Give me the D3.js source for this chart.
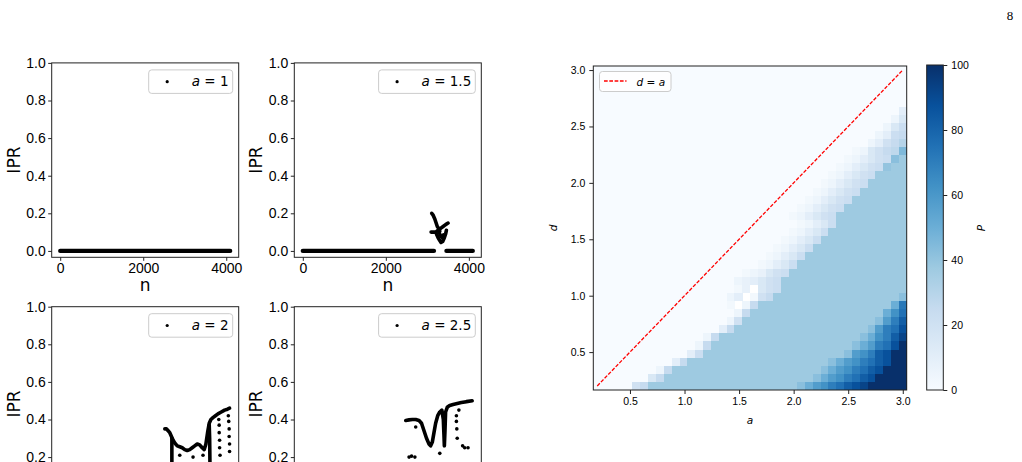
<!DOCTYPE html>
<meta charset="utf-8">
<script src="https://cdn.jsdelivr.net/npm/d3@7"></script>
<style>
body { margin: 0; background: #fff; }
svg { display: block; font-family: "DejaVu Sans", sans-serif; }
.tick line { stroke: #222; }
.frame { fill: none; stroke: #222; stroke-width: 1px; }
</style>
<body>
<script>

// ---- left panels: IPR vs n ----
var nTicks = [0, 2000, 4000];
var iprTicks = [0, 0.2, 0.4, 0.6, 0.8, 1.0];
var aLabels = ["1", "1.5", "2", "2.5"];

// stretches of IPR = 0 (dense dots), [nStart, nEnd]
var flat1 = [[0, 4095]];
var flat2 = [[0, 3160], [3460, 4095]];
var flat3 = [];
var flat4 = [];

// dense runs of dots, [n, IPR]
var curves2 = [
  [[3106,0.20],[3140,0.19],[3180,0.17],[3210,0.15],[3240,0.13],[3270,0.12],[3300,0.105]],
  [[3090,0.10],[3150,0.10],[3200,0.10],[3260,0.11],[3320,0.12],[3380,0.13],[3440,0.14],[3500,0.148]],
  [[3220,0.09],[3260,0.07],[3300,0.055],[3330,0.045],[3370,0.05],[3410,0.07],[3440,0.09],[3460,0.11]],
  [[3280,0.10],[3320,0.08],[3360,0.07],[3390,0.085]]
];
var curves3 = [
  [[2520,0.35],[2560,0.35],[2600,0.34],[2640,0.33],[2680,0.31],[2720,0.29],[2760,0.275],[2820,0.26],[2880,0.255],[2940,0.25],[3000,0.24],[3060,0.235],[3120,0.24],[3180,0.25],[3240,0.26],[3300,0.27],[3360,0.265],[3420,0.25],[3470,0.24],[3510,0.27],[3550,0.33],[3590,0.38],[3630,0.40],[3680,0.41],[3740,0.42],[3800,0.43],[3880,0.44],[3960,0.45],[4030,0.455],[4080,0.46]],
  [[2690,0.30],[2690,0.12]],
  [[3590,0.37],[3600,0.30],[3610,0.12]]
];
var curves4 = [
  [[2480,0.395],[2560,0.398],[2640,0.40],[2720,0.40],[2800,0.395],[2860,0.38],[2920,0.34],[2980,0.30],[3040,0.27],[3080,0.26],[3120,0.28],[3160,0.33],[3200,0.38],[3250,0.42],[3300,0.44],[3350,0.45],[3385,0.40],[3400,0.32],[3410,0.26],[3425,0.34],[3440,0.44],[3480,0.465],[3540,0.475],[3620,0.48],[3720,0.485],[3820,0.49],[3940,0.495],[4080,0.50]]
];
// isolated dots
var strays3 = [[3820,0.40],[3830,0.37],[3830,0.33],[3840,0.29],[3840,0.25],[3850,0.21],[4050,0.42],[4060,0.39],[4070,0.35],[4070,0.31],[4080,0.27],[4080,0.23],[2880,0.21],[3200,0.20],[3440,0.21]];
var strays4 = [[2560,0.20],[2620,0.205],[2700,0.20],[2720,0.36],[3300,0.22],[3700,0.42],[3700,0.39],[3710,0.35],[3720,0.30],[3850,0.26],[3900,0.25],[3980,0.25],[3760,0.45]];

// ---- right panel: P(a, d) heat map ----
var gridVals = [0.2,0.272,0.344,0.415,0.487,0.559,0.631,0.703,0.774,0.846,0.918,0.990,1.062,1.133,1.205,1.277,1.349,1.421,1.492,1.564,
                1.636,1.708,1.779,1.851,1.923,1.995,2.067,2.138,2.210,2.282,2.354,2.426,2.497,2.569,2.641,2.713,2.785,2.856,2.928,3.0];
var abTicks = [0.5, 1.0, 1.5, 2.0, 2.5, 3.0];
var pTicks = [0, 20, 40, 60, 80, 100];
var diagVals = [0.2, 3.0];
// one symbol per cell, P = 2.5 * index in pSymbols, "-" = no value; "c*n" = c repeated n times
var pSymbols = "0123456789abcdefghijklmnopqrstuvwxyzABCDE";
// rows from d = 3.0 (top) down to d = 0.2
var pRows = [
  "0*40",
  "0*40",
  "0*40",
  "0*40",
  "0*40",
  "0*39 4",
  "0*38 26",
  "0*37 269",
  "0*36 249a",
  "0*35 248ac",
  "0*33 1268abi",
  "0*32 124689 hf",
  "0*31 124689 g f*2",
  "0*30 124689 f*4",
  "0*29 124689 f*5",
  "0*28 124689 f*6",
  "0*27 124689 f*7",
  "0*26 124689 f*8",
  "0*25 124689 f*9",
  "0*26 12469 f*9",
  "0*25 12469 f*10",
  "0*24 12469 f*11",
  "0*23 12469 f*12",
  "0*22 12469 f*13",
  "0*21 12469 f*14",
  "0*19 123689 f*15",
  "0*18 234689 f*16",
  "0*18 13-689 f*16",
  "0*17 24-18a f*16 h",
  "0*17 1-2a f*17 kt",
  "0*18 2a f*17 kpu",
  "0*17 28 f*17 hnsx",
  "0*16 4a f*17 hnsuz",
  "0*14 2a f*18 hkpsxB",
  "0*13 2a f*18 hknsuz E",
  "0*12 49 f*18 hnpsxz E*2",
  "0*10 4a f*18 hknpsuxz E*2",
  "0*8 2a f*19 hknpsuxz E*3",
  "0*7 6a f*19 hknpsuxz E*4",
  "0*5 8a f*19 hknpsuxzB E*5"
];

var width = 1022, height = 462;

var svg = d3.select("body").append("svg")
    .attr("width", width)
    .attr("height", height);

// page number
svg.append("text")
    .attr("x", 1010).attr("y", 20)
    .attr("text-anchor", "middle")
    .style("font-family", "'Liberation Serif', serif")
    .style("font-size", "13px")
    .style("fill", "#000")
    .text("8");

// small panels
var panels = [
  {left: 51.7, top: 62.9, a: aLabels[0], flat: flat1, curves: [], strays: []},
  {left: 294.3, top: 62.9, a: aLabels[1], flat: flat2, curves: curves2, strays: []},
  {left: 51.7, top: 306.7, a: aLabels[2], flat: flat3, curves: curves3, strays: strays3},
  {left: 294.3, top: 306.7, a: aLabels[3], flat: flat4, curves: curves4, strays: strays4}
];
var pw = 187, ph = 194.4;

panels.forEach(function(p) {
  var g = svg.append("g").attr("transform", "translate(" + p.left + "," + p.top + ")");

  var x = d3.scaleLinear().domain([-205, 4300]).range([0, pw]);
  var y = d3.scaleLinear().domain([-0.034, 1.0]).range([ph, 0]);

  var line = d3.line()
      .x(function(d) { return x(d[0]); })
      .y(function(d) { return y(d[1]); });

  g.selectAll(".flat")
      .data(p.flat)
      .enter().append("line")
      .attr("x1", function(d) { return x(d[0]); })
      .attr("x2", function(d) { return x(d[1]); })
      .attr("y1", y(0)).attr("y2", y(0))
      .style("stroke", "#000")
      .style("stroke-width", 4.3)
      .style("stroke-linecap", "round");

  g.selectAll(".curve")
      .data(p.curves)
      .enter().append("path")
      .attr("d", line)
      .style("fill", "none")
      .style("stroke", "#000")
      .style("stroke-width", 3.6)
      .style("stroke-linecap", "round")
      .style("stroke-linejoin", "round");

  g.selectAll(".stray")
      .data(p.strays)
      .enter().append("circle")
      .attr("cx", function(d) { return x(d[0]); })
      .attr("cy", function(d) { return y(d[1]); })
      .attr("r", 1.8)
      .style("fill", "#000");

  // only the ticks that fall inside the page
  var shown = iprTicks.filter(function(t) { return p.top + y(t) < height; });
  var ya = g.append("g")
      .call(d3.axisLeft(y).tickValues(shown).tickFormat(d3.format(".1f")).tickSize(3.5).tickPadding(2.5));
  ya.select(".domain").remove();
  ya.selectAll("text").style("font-size", "14px").style("fill", "#000");

  if (p.top + ph < height) {
    var xa = g.append("g")
        .attr("transform", "translate(0," + ph + ")")
        .call(d3.axisBottom(x).tickValues(nTicks).tickFormat(d3.format("d")).tickSize(3.5).tickPadding(2.5));
    xa.select(".domain").remove();
    xa.selectAll("text").style("font-size", "14px").style("fill", "#000");
    g.append("text")
        .attr("x", pw / 2).attr("y", ph + 34)
        .attr("text-anchor", "middle")
        .style("font-size", "17px")
        .text("n");
  }

  g.append("rect").attr("class", "frame").attr("width", pw).attr("height", ph);

  g.append("text")
      .attr("transform", "translate(" + (-32) + "," + (ph / 2) + ") rotate(-90)")
      .attr("text-anchor", "middle")
      .style("font-size", "17px")
      .text("IPR");

  // legend
  var lw = p.a.length > 1 ? 96.7 : 84;
  var lg = g.append("g").attr("transform", "translate(" + (pw - 6 - lw) + ",7)");
  lg.append("rect")
      .attr("width", lw).attr("height", 23.5).attr("rx", 3)
      .style("fill", "#fff").style("fill-opacity", 0.8)
      .style("stroke", "#ccc").style("stroke-width", 1);
  lg.append("circle").attr("cx", 18.5).attr("cy", 11.8).attr("r", 1.6).style("fill", "#000");
  var lt = lg.append("text").attr("x", 43).attr("y", 16.5).style("font-size", "13.5px");
  lt.append("tspan").style("font-style", "italic").text("a");
  lt.append("tspan").text(" = " + p.a);
});

// heat map
var hx = d3.scaleLinear().domain([0.164, 3.036]).range([593.3, 906.7]);
var hy = d3.scaleLinear().domain([0.164, 3.036]).range([390, 66]);
var half = 0.0359;

var blues = d3.scaleLinear()
    .domain([0, 12.5, 25, 37.5, 50, 62.5, 75, 87.5, 100])
    .range(d3.schemeBlues[9])
    .interpolate(d3.interpolateRgb);

function expandRow(s) {
  return s.split(" ").map(function(tok) {
    var m = tok.match(/^(.)\*(\d+)$/);
    return m ? m[1].repeat(+m[2]) : tok;
  }).join("");
}

var cells = [];
pRows.forEach(function(row, ri) {
  var dv = gridVals[gridVals.length - 1 - ri];
  expandRow(row).split("").forEach(function(c, ci) {
    if (c === "-") return;
    cells.push({a: gridVals[ci], d: dv, p: pSymbols.indexOf(c) * 2.5});
  });
});

var hm = svg.append("g").style("shape-rendering", "crispEdges");
hm.selectAll("rect")
    .data(cells)
    .enter().append("rect")
    .attr("x", function(d) { return hx(d.a - half); })
    .attr("y", function(d) { return hy(d.d + half); })
    .attr("width", function(d) { return hx(d.a + half) - hx(d.a - half) + 0.5; })
    .attr("height", function(d) { return hy(d.d - half) - hy(d.d + half) + 0.5; })
    .style("fill", function(d) { return blues(d.p); });

svg.append("path")
    .datum(diagVals)
    .attr("d", d3.line().x(function(d) { return hx(d); }).y(function(d) { return hy(d); }))
    .style("fill", "none")
    .style("stroke", "#ff0000")
    .style("stroke-width", 1.3)
    .style("stroke-dasharray", "3.7,1.6");

var hxa = svg.append("g").attr("transform", "translate(0,390)")
    .call(d3.axisBottom(hx).tickValues(abTicks).tickFormat(d3.format(".1f")).tickSize(4).tickPadding(4));
var hya = svg.append("g").attr("transform", "translate(593.3,0)")
    .call(d3.axisLeft(hy).tickValues(abTicks).tickFormat(d3.format(".1f")).tickSize(4).tickPadding(4));
[hxa, hya].forEach(function(a) {
  a.select(".domain").remove();
  a.selectAll("text").style("font-size", "10.5px").style("fill", "#000");
});
svg.append("rect").attr("class", "frame")
    .attr("x", 593.3).attr("y", 66).attr("width", 313.4).attr("height", 324);

svg.append("text")
    .attr("x", 750).attr("y", 424)
    .attr("text-anchor", "middle")
    .style("font-size", "10.5px").style("font-style", "italic")
    .text("a");
svg.append("text")
    .attr("transform", "translate(557,228) rotate(-90)")
    .attr("text-anchor", "middle")
    .style("font-size", "10.5px").style("font-style", "italic")
    .text("d");

// heat map legend
var hl = svg.append("g").attr("transform", "translate(599.5,71.5)");
hl.append("rect")
    .attr("width", 71.5).attr("height", 20).attr("rx", 3)
    .style("fill", "#fff").style("fill-opacity", 0.8)
    .style("stroke", "#ccc").style("stroke-width", 1);
hl.append("line")
    .attr("x1", 4.5).attr("x2", 27).attr("y1", 9.5).attr("y2", 9.5)
    .style("stroke", "#ff0000").style("stroke-width", 1.4).style("stroke-dasharray", "3.7,1.6");
var ht = hl.append("text").attr("x", 37).attr("y", 14).style("font-size", "10.5px");
ht.append("tspan").style("font-style", "italic").text("d");
ht.append("tspan").text(" = ");
ht.append("tspan").style("font-style", "italic").text("a");

// colour bar
var cb = d3.scaleLinear().domain([0, 100]).range([390, 65]);
var grad = svg.append("defs").append("linearGradient")
    .attr("id", "bluesGrad")
    .attr("x1", 0).attr("y1", 1).attr("x2", 0).attr("y2", 0);
grad.selectAll("stop")
    .data(blues.domain())
    .enter().append("stop")
    .attr("offset", function(d) { return d / 100; })
    .attr("stop-color", function(d) { return blues(d); });
svg.append("rect")
    .attr("x", 926.7).attr("y", cb(100))
    .attr("width", 16.6).attr("height", cb(0) - cb(100))
    .style("fill", "url(#bluesGrad)");
svg.append("rect").attr("class", "frame")
    .attr("x", 926.7).attr("y", cb(100))
    .attr("width", 16.6).attr("height", cb(0) - cb(100));
var cba = svg.append("g").attr("transform", "translate(943.3,0)")
    .call(d3.axisRight(cb).tickValues(pTicks).tickSize(4).tickPadding(4));
cba.select(".domain").remove();
cba.selectAll("text").style("font-size", "10.5px").style("fill", "#000");
svg.append("text")
    .attr("transform", "translate(985,228) rotate(-90)")
    .attr("text-anchor", "middle")
    .style("font-size", "10.5px").style("font-style", "italic")
    .text("P");

</script>
</body>
